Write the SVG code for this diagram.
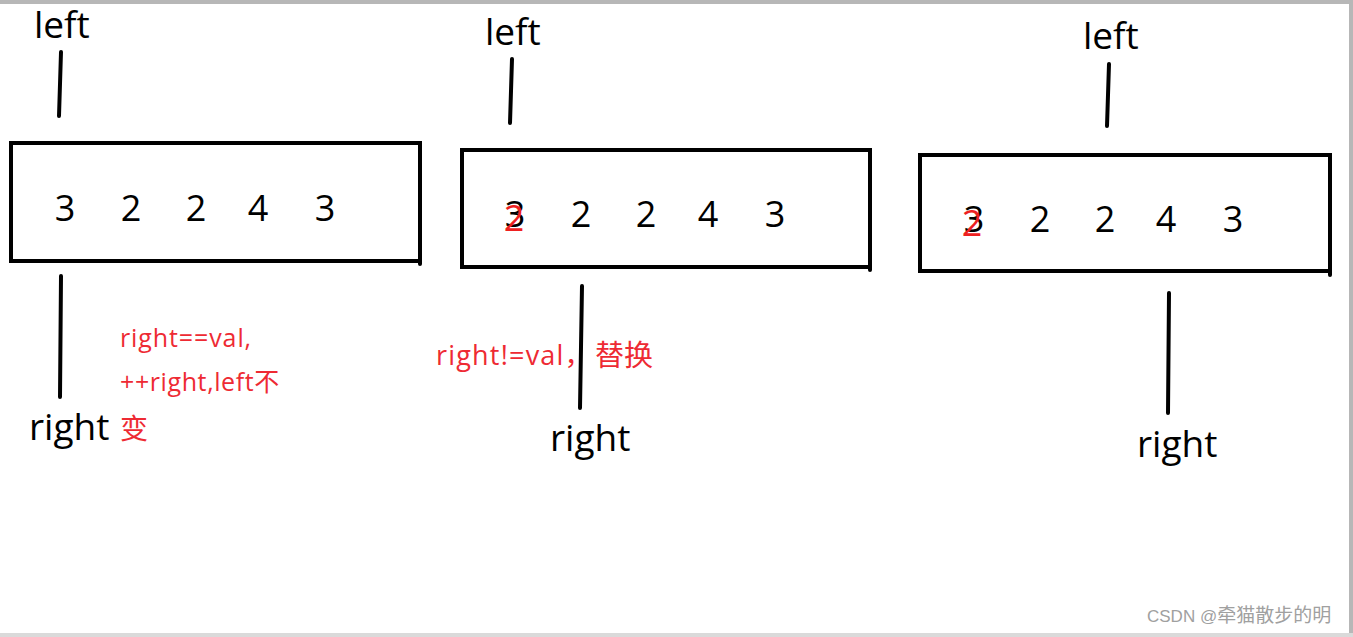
<svg xmlns="http://www.w3.org/2000/svg" width="1353" height="637" viewBox="0 0 1353 637">
<style>
.bx{fill:none;stroke:#000;stroke-width:4}
.ln{stroke:#000;stroke-width:4;stroke-linecap:round;fill:none}
.lbl{font-family:"Open Sans","Noto Sans","Liberation Sans",sans-serif;font-size:37px;fill:#000}
.num{font-family:"Open Sans","Noto Sans","Liberation Sans",sans-serif;font-size:36px;fill:#000;text-anchor:middle}
.rnum{font-family:"Open Sans","Noto Sans","Liberation Sans",sans-serif;font-size:36px;fill:#ee2020;text-anchor:middle}
.red{font-family:"Open Sans","Noto Sans","Liberation Sans","Noto Sans CJK SC",sans-serif;fill:#ee2a33}
.wm{font-family:"Liberation Sans","Noto Sans CJK SC",sans-serif;font-size:17px;fill:#a0a0a0}
</style>
<rect width="1353" height="637" fill="#fff"/>
<rect x="0" y="0" width="1353" height="4" fill="#b7b7b7"/>
<rect x="1349" y="0" width="4" height="637" fill="#b7b7b7"/>
<rect x="0" y="633" width="1353" height="4" fill="#dadada"/>

<g id="connectors">
<path class="ln" d="M61 52 L59 116"/>
<path class="ln" d="M61 276 L60 397"/>
<path class="ln" d="M512 59 L510 123"/>
<path class="ln" d="M582 286 L580 408"/>
<path class="ln" d="M1109 64 L1107 126"/>
<path class="ln" d="M1169 293 L1168 413"/>
</g>

<g id="box1">
<rect class="bx" x="11" y="143" width="409" height="118"/>
<path class="ln" d="M420 143 L420 264"/>
<text class="num" x="65" y="221">3</text>
<text class="num" x="131" y="221">2</text>
<text class="num" x="196" y="221">2</text>
<text class="num" x="258" y="221">4</text>
<text class="num" x="325" y="221">3</text>
</g>

<g id="box2">
<rect class="bx" x="462" y="150" width="408" height="117"/>
<path class="ln" d="M870 150 L870 270"/>
<text class="num" x="515" y="227">3</text>
<text class="rnum" x="514" y="231">2</text>
<text class="num" x="581" y="227">2</text>
<text class="num" x="646" y="227">2</text>
<text class="num" x="708" y="227">4</text>
<text class="num" x="775" y="227">3</text>
</g>

<g id="box3">
<rect class="bx" x="920" y="155" width="410" height="116"/>
<path class="ln" d="M1330 155 L1330 275"/>
<text class="num" x="974" y="232">3</text>
<text class="rnum" x="972" y="236">2</text>
<text class="num" x="1040" y="232">2</text>
<text class="num" x="1105" y="232">2</text>
<text class="num" x="1166" y="232">4</text>
<text class="num" x="1233" y="232">3</text>
</g>

<g id="labels1">
<text class="lbl" x="34" y="38">left</text>
<text class="lbl" x="29" y="440">right</text>
<text class="red" x="120" y="347" font-size="25" letter-spacing="0.9">right==val,</text>
<text class="red" x="120" y="391" font-size="25" letter-spacing="0.6">++right,left不</text>
<text class="red" x="120" y="439" font-size="28">变</text>
</g>
<g id="labels2">
<text class="lbl" x="485" y="45">left</text>
<text class="lbl" x="550" y="451">right</text>
<text class="red" x="436" y="365" font-size="27" letter-spacing="1.2">right!=val，</text>
<text class="red" x="595" y="366" font-size="29">替换</text>
</g>
<g id="labels3">
<text class="lbl" x="1083" y="49">left</text>
<text class="lbl" x="1137" y="457">right</text>
</g>

<text class="wm" x="1147" y="622">CSDN @<tspan font-size="19">牵猫散步的明</tspan></text>
</svg>
